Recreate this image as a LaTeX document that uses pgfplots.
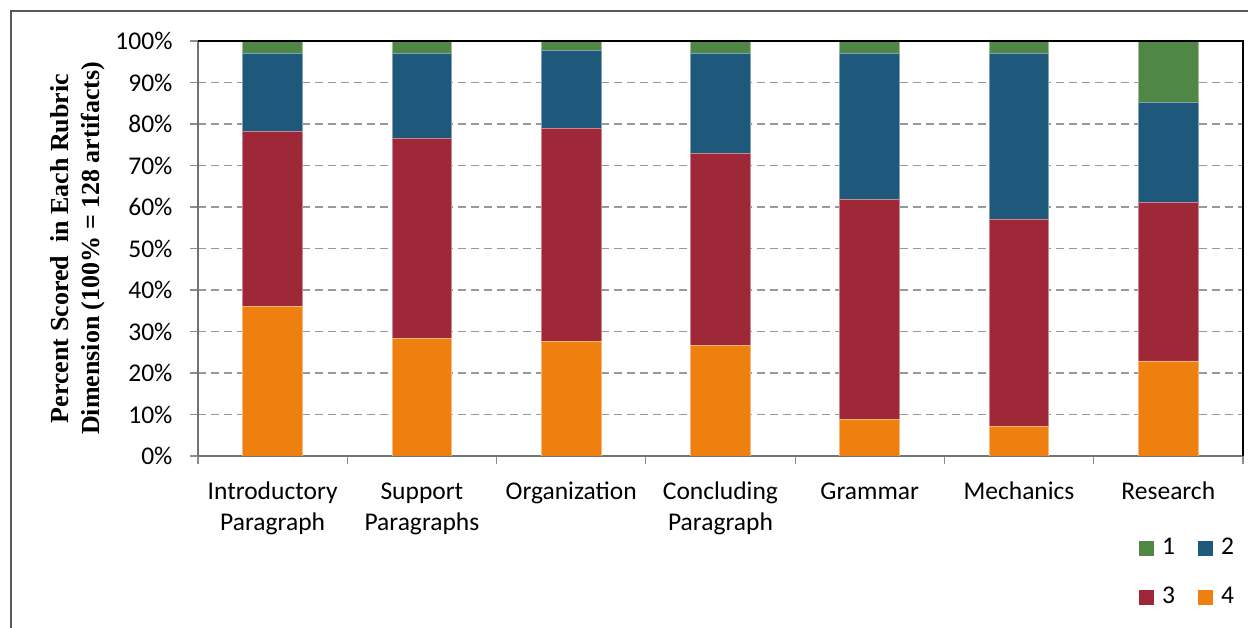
\documentclass[border=0pt]{standalone}
\usepackage{fontspec}
\setmainfont{Carlito}
\newfontfamily\tnr{Liberation Serif}
\usepackage{pgfplots}
\pgfplotsset{compat=1.18}
\definecolor{cA}{RGB}{80,135,70}
\definecolor{cB}{RGB}{30,88,123}
\definecolor{cC}{RGB}{158,40,56}
\definecolor{cD}{RGB}{239,127,15}
\begin{document}
\begin{tikzpicture}
\path[use as bounding box] (0pt,0pt) rectangle (1248pt,628pt);
\draw[black!65, line width=1.6pt] (11pt,0pt) -- (11pt,617pt) -- (1248pt,617pt);
\begin{axis}[
  at={(198pt,172pt)}, anchor=south west, scale only axis,
  width=1045pt, height=415pt,
  ybar stacked, bar width=0.4,
  ymin=0, ymax=100, xmin=-0.5, xmax=6.5,
  xtick={-0.5,0.5,1.5,2.5,3.5,4.5,5.5,6.5},
  x tick label as interval,
  xticklabels={{Introductory\\Paragraph},{Support\\Paragraphs},{Organization},{Concluding\\Paragraph},{Grammar},{Mechanics},{Research}},
  typeset ticklabels with strut,
  x tick label style={align=center, font=\fontsize{25.5}{31}\selectfont, yshift=-10pt},
  ytick={0,10,...,100},
  /pgf/number format/assume math mode=true,
  yticklabel={\pgfmathprintnumber{\tick}\%},
  y tick label style={font=\fontsize{25.5}{31}\selectfont, xshift=-14pt},
  tick align=outside, major tick length=8pt,
  tick style={black!45, line width=1.2pt},
  axis lines*=left,
  axis line style={black!55, line width=1.6pt, -},
  ymajorgrids,
  grid style={black!40, line width=1.5pt, dash pattern=on 8pt off 5pt},
  ylabel={Percent Scored\ \ in Each Rubric\\Dimension (100\% = 128 artifacts)},
  ylabel style={align=center, font=\tnr\bfseries\fontsize{26}{31}\selectfont, yshift=4pt},
  legend columns=2,
  legend image code/.code={\fill[#1,draw=none] (0pt,-7.5pt) rectangle (15pt,7.5pt);},
  legend style={draw=none, fill=none, inner sep=0pt, at={(0.9005,-0.1928)}, anchor=north west,
    font=\fontsize{25.5}{31}\selectfont, row sep=25pt,
    nodes={inner xsep=0pt, inner ysep=0pt, text height=18pt, text depth=6pt},
    /tikz/every odd column/.append style={column sep=8pt},
    /tikz/every even column/.append style={column sep=23pt}},
  legend cell align=left,
  after end axis/.code={\draw[black, line width=2pt] (rel axis cs:0,1) -- (rel axis cs:1,1) -- (rel axis cs:1,0);},
]
\addlegendimage{fill=cA}\addlegendentry{1}
\addlegendimage{fill=cB}\addlegendentry{2}
\addlegendimage{fill=cC}\addlegendentry{3}
\addlegendimage{fill=cD}\addlegendentry{4}
\addplot[fill=cD, draw=cD!55!white, line width=0.8pt] coordinates {(0,36.0) (1,28.4) (2,27.5) (3,26.7) (4,8.7) (5,7.2) (6,22.9)};
\addplot[fill=cC, draw=cC!55!white, line width=0.8pt] coordinates {(0,42.2) (1,48.2) (2,51.5) (3,46.3) (4,53.2) (5,49.9) (6,38.1)};
\addplot[fill=cB, draw=cB!55!white, line width=0.8pt] coordinates {(0,18.9) (1,20.5) (2,18.8) (3,24.1) (4,35.2) (5,40.0) (6,24.3)};
\addplot[fill=cA, draw=cA!55!white, line width=0.8pt] coordinates {(0,2.9) (1,2.9) (2,2.2) (3,2.9) (4,2.9) (5,2.9) (6,14.7)};
\end{axis}
\end{tikzpicture}
\end{document}
